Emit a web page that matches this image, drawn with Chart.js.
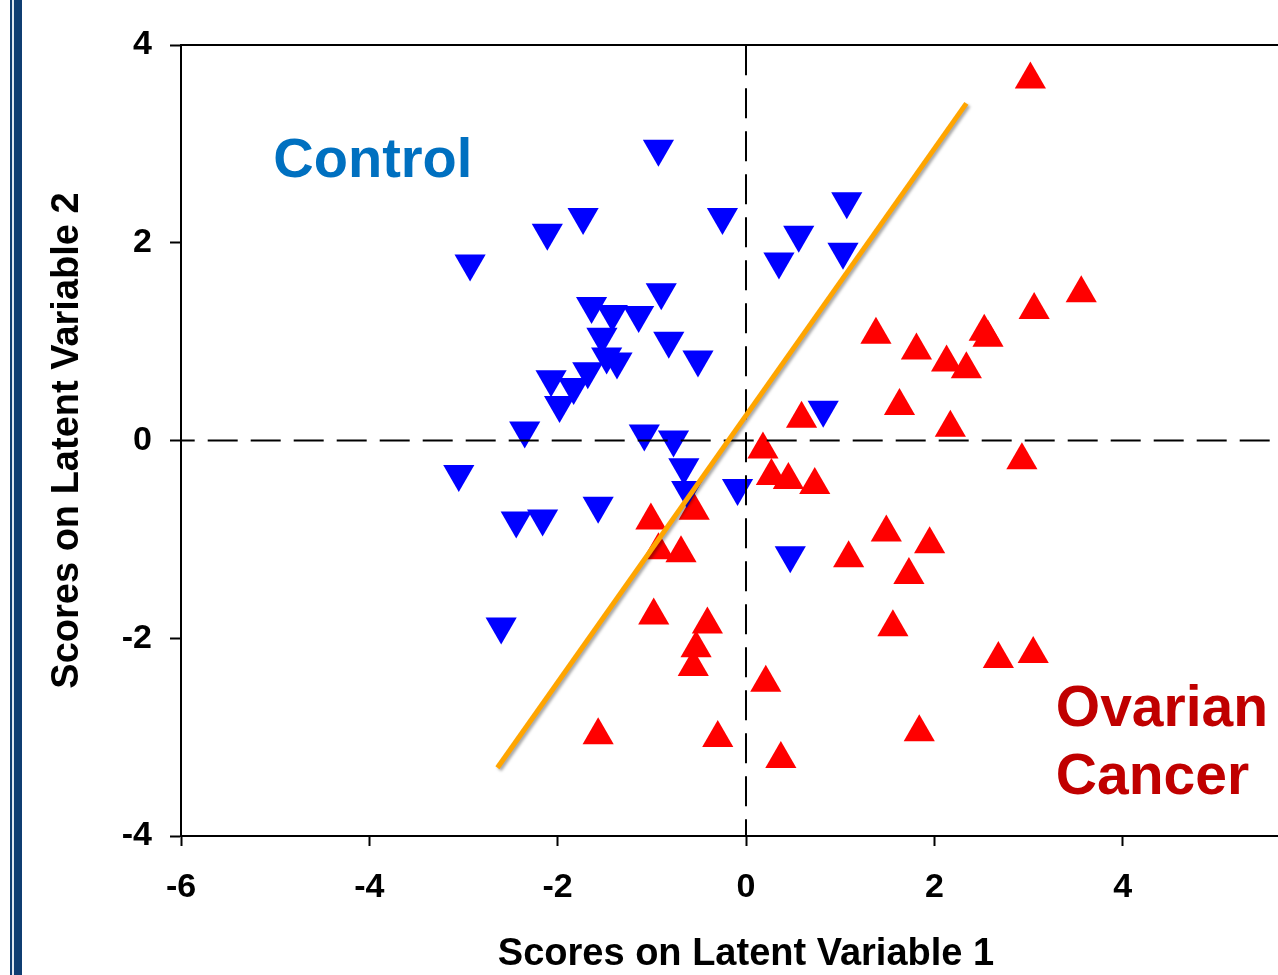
<!DOCTYPE html>
<html><head><meta charset="utf-8">
<script src="https://cdn.jsdelivr.net/npm/chart.js@4.4.0/dist/chart.umd.min.js"></script>
<style>
html,body{margin:0;padding:0;background:#fff;overflow:hidden;width:1278px;height:975px;}
#wrap{position:absolute;left:0;top:0;width:1320px;height:975px;}
.bar{position:absolute;top:0;height:975px;}
</style></head><body>
<div id="wrap"><canvas id="c"></canvas></div>
<div class="bar" style="left:10px;width:2px;background:#0f3d72"></div>
<div class="bar" style="left:12px;width:2px;background:#dde5ee"></div>
<div class="bar" style="left:14px;width:8px;background:#0f3d72"></div>
<script>
// Control group (blue, downward triangles)
const controlX = [-0.93,-1.73,-2.11,-2.93,-0.25,-0.90,-1.64,-1.42,-1.14,-1.53,-0.82,-0.51,-1.48,-1.37,-1.68,-2.07,-1.83,-1.98,-2.35,-1.08,-0.77,-3.05,-0.66,-0.63,-0.09,-1.57,-2.44,-2.16,-2.60,1.07,0.56,0.35,1.03,0.82,0.47];
const controlY = [2.95,2.26,2.10,1.79,2.26,1.50,1.36,1.28,1.27,1.05,1.01,0.82,0.85,0.80,0.70,0.62,0.54,0.36,0.10,0.07,0.01,-0.34,-0.27,-0.50,-0.48,-0.66,-0.81,-0.79,-1.88,2.42,2.08,1.81,1.91,0.31,-1.16];
// Ovarian cancer group (red, upward triangles)
const cancerX = [-1.01,-0.55,-0.93,-0.69,-0.98,-0.41,-0.53,-0.56,-1.57,-0.30,0.21,0.37,3.56,3.06,2.53,2.57,1.38,1.81,2.13,2.34,1.63,0.59,2.17,2.93,0.18,0.27,0.45,0.73,1.49,1.95,1.09,1.73,1.56,2.68,3.05,1.84,3.02];
const cancerY = [-0.81,-0.71,-1.11,-1.14,-1.77,-1.86,-2.10,-2.29,-2.98,-3.01,-2.45,-3.22,1.49,1.32,1.10,1.04,1.07,0.91,0.79,0.72,0.35,0.22,0.13,-0.20,-0.09,-0.36,-0.40,-0.45,-0.93,-1.05,-1.19,-1.36,-1.89,-2.21,-2.16,-2.95,3.65];
// Discriminant boundary line
const boundaryX = [-2.64, 2.34];
const boundaryY = [-3.31, 3.41];
// Axes (the plot's right part, from about 5.65 to 6, is cut off by the page edge)
const xRange = [-6, 6];
const yRange = [-4, 4];
const xTicks = [-6, -4, -2, 0, 2, 4, 6];
const yTicks = [-4, -2, 0, 2, 4];
const xTitle = 'Scores on Latent Variable 1';
const yTitle = 'Scores on Latent Variable 2';
const labelControl = ['Control'];
const labelCancer = ['Ovarian', 'Cancer'];

const FONT = "Arial, 'Liberation Sans', sans-serif";
const zip = (xs, ys) => xs.map((x, i) => ({x: x, y: ys[i]}));

const overlay = {
  id: 'overlay',
  beforeDatasetDraw(chart, args) {
    const ds = chart.data.datasets[args.index];
    if (ds.shadow) {
      const ctx = chart.ctx;
      ctx.save();
      ctx.shadowColor = 'rgba(0,0,0,0.35)';
      ctx.shadowBlur = 3;
      ctx.shadowOffsetX = 2;
      ctx.shadowOffsetY = 2;
    }
  },
  afterDatasetDraw(chart, args) {
    const ds = chart.data.datasets[args.index];
    if (ds.shadow) chart.ctx.restore();
  },
  afterDraw(chart) {
    const ctx = chart.ctx, a = chart.chartArea;
    const xs = chart.scales.x, ys = chart.scales.y;
    ctx.save();
    ctx.strokeStyle = '#000';
    ctx.lineWidth = 2;
    ctx.beginPath();
    ctx.moveTo(a.left - 1, a.top);
    ctx.lineTo(a.right, a.top);
    ctx.stroke();
    ctx.font = 'bold 56px ' + FONT;
    ctx.textAlign = 'left';
    ctx.textBaseline = 'alphabetic';
    ctx.fillStyle = '#0070C0';
    labelControl.forEach((t, i) => ctx.fillText(t, xs.getPixelForValue(-5.02), ys.getPixelForValue(2.67) + i * 68));
    ctx.font = 'bold 57px ' + FONT;
    ctx.fillStyle = '#C00000';
    labelCancer.forEach((t, i) => ctx.fillText(t, xs.getPixelForValue(3.29), ys.getPixelForValue(-2.89) + i * 68));
    ctx.restore();
  }
};

new Chart(document.getElementById('c'), {
  type: 'scatter',
  data: {
    datasets: [
      {
        type: 'line', data: zip(boundaryX, boundaryY), borderColor: '#FFA500', borderWidth: 5,
        borderCapStyle: 'butt', pointRadius: 0, fill: false, order: 0, shadow: true
      },
      {
        type: 'line', data: zip([xRange[0], xRange[1]], [0, 0]), borderColor: '#000', borderWidth: 2,
        borderDash: [30, 13], borderDashOffset: 16.3, pointRadius: 0, fill: false, order: 1
      },
      {
        type: 'line', data: zip([0, 0], [yRange[0], yRange[1]]), borderColor: '#000', borderWidth: 2,
        borderDash: [30, 13], borderDashOffset: 13.3, pointRadius: 0, fill: false, order: 1
      },
      {
        label: 'Control', data: zip(controlX, controlY), pointStyle: 'triangle', rotation: 180,
        pointRadius: 18, pointBorderWidth: 0, backgroundColor: '#0000FF', borderColor: '#0000FF', order: 2
      },
      {
        label: 'Ovarian Cancer', data: zip(cancerX, cancerY), pointStyle: 'triangle', rotation: 0,
        pointRadius: 18, pointBorderWidth: 0, backgroundColor: '#FF0000', borderColor: '#FF0000', order: 3
      }
    ]
  },
  options: {
    responsive: true,
    maintainAspectRatio: false,
    devicePixelRatio: 1,
    animation: false,
    layout: {autoPadding: false, padding: {top: 45, right: 9, bottom: 0, left: 0}},
    plugins: {legend: {display: false}, tooltip: {enabled: false}},
    scales: {
      x: {
        type: 'linear', min: xRange[0], max: xRange[1],
        afterBuildTicks: s => { s.ticks = xTicks.map(v => ({value: v})); },
        afterFit: s => { s.height = 139; s.paddingRight = 0; s.paddingLeft = 0; },
        grid: {display: true, drawOnChartArea: false, drawTicks: true, tickLength: 10, tickWidth: 2, tickColor: '#000', color: '#000'},
        border: {display: true, color: '#000', width: 2},
        ticks: {color: '#000', padding: 21, font: {family: FONT, size: 34, weight: 'bold'}, callback: v => String(v), maxRotation: 0},
        title: {display: true, text: xTitle, color: '#000', font: {family: FONT, size: 38, weight: 'bold', lineHeight: 1}, padding: {top: 0, bottom: 1}}
      },
      y: {
        type: 'linear', min: yRange[0], max: yRange[1],
        afterBuildTicks: s => { s.ticks = yTicks.map(v => ({value: v})); },
        afterFit: s => { s.width = 181; s.paddingTop = 0; s.paddingBottom = 0; },
        grid: {display: true, drawOnChartArea: false, drawTicks: true, tickLength: 11, tickWidth: 2, tickColor: '#000', color: '#000'},
        border: {display: true, color: '#000', width: 2},
        ticks: {color: '#000', padding: 18, font: {family: FONT, size: 34, weight: 'bold'}, callback: v => String(v)},
        title: {display: true, text: yTitle, color: '#000', font: {family: FONT, size: 38, weight: 'bold', lineHeight: 1}, padding: {top: 49, bottom: 0}}
      }
    }
  },
  plugins: [overlay]
});
</script>
</body></html>
